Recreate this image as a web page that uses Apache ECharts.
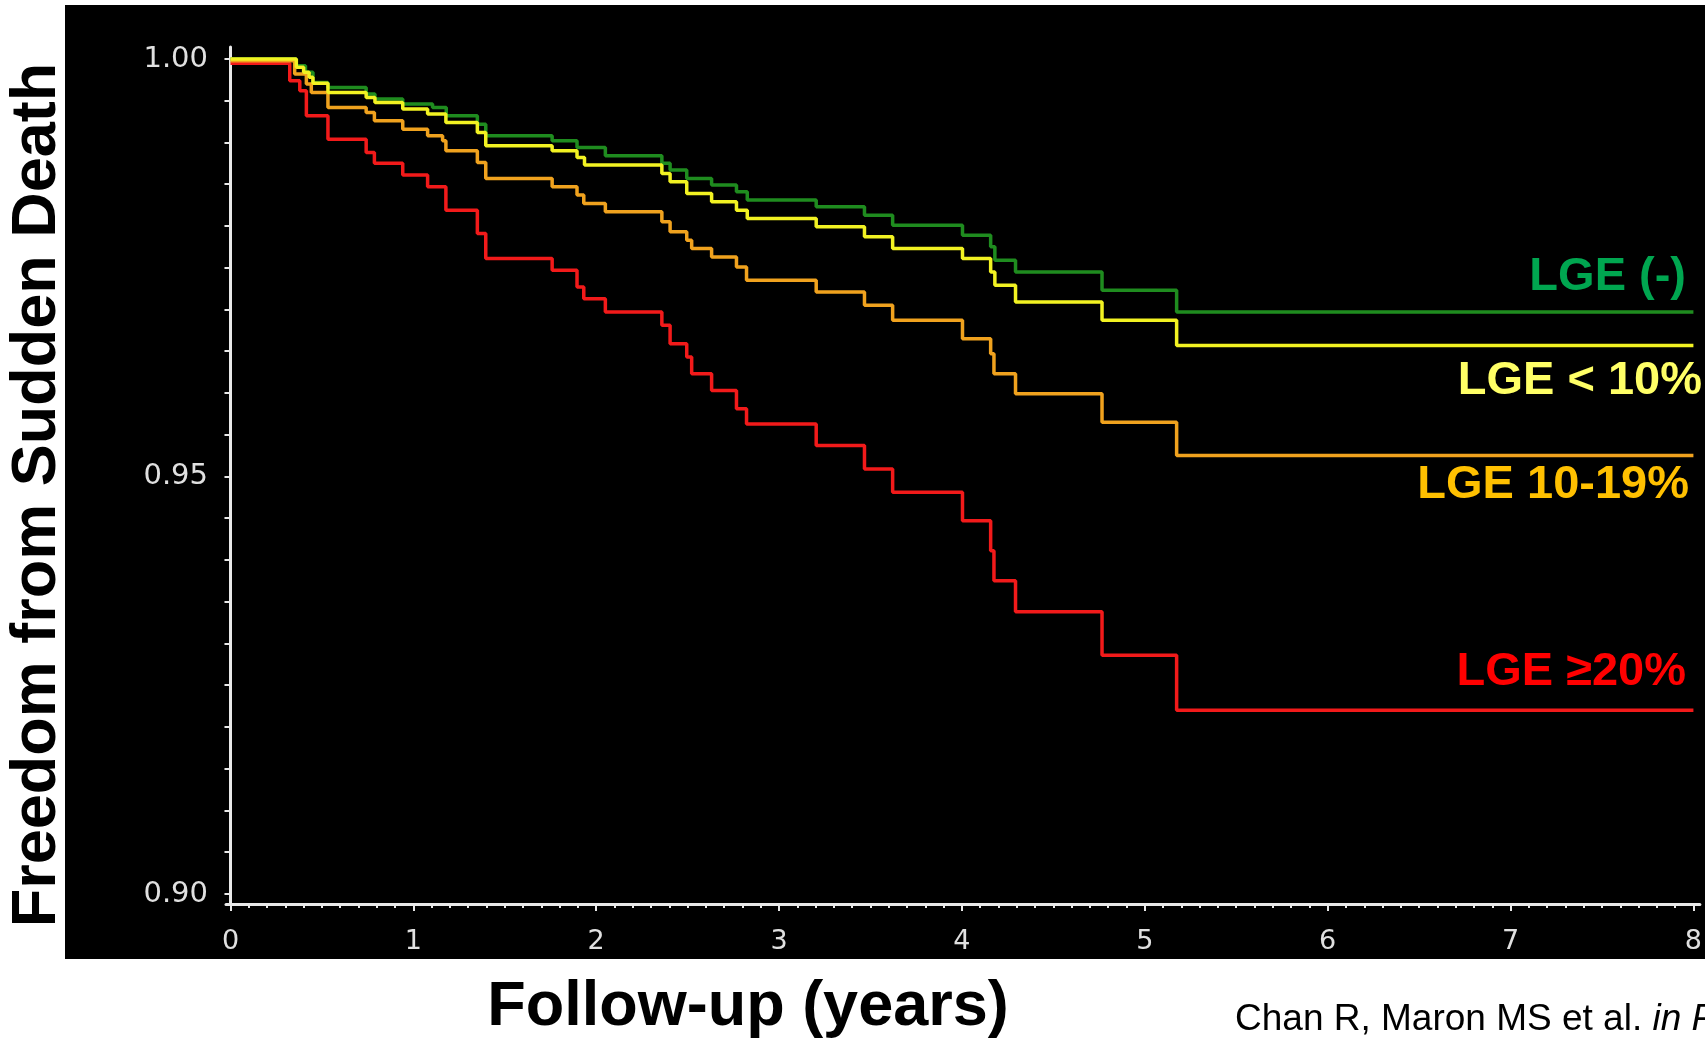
<!DOCTYPE html>
<html><head><meta charset="utf-8">
<script src="https://cdn.jsdelivr.net/npm/echarts@6/dist/echarts.min.js"></script>
<style>html,body{margin:0;padding:0;background:#fff;overflow:hidden}#c{width:1705px;height:1042px}</style>
</head><body><div id="c"></div>
<script>
// ---- data ----
const xTickYears = [0, 1, 2, 3, 4, 5, 6, 7, 8];
const yTickLabels = [0.90, 0.95, 1.00];
const seriesNames = ['LGE ≥20%', 'LGE (-)', 'LGE 10-19%', 'LGE < 10%'];

const redT = [0, 0.324, 0.379, 0.415, 0.533, 0.742, 0.787, 0.942, 1.078, 1.178, 1.350, 1.396, 1.759, 1.895, 1.932, 2.050, 2.359, 2.404, 2.495, 2.522, 2.631, 2.767, 2.822, 3.203, 3.467, 3.621, 4.003, 4.157, 4.175, 4.293, 4.766, 5.174, 8.0];
const redS = [0.9995, 0.9974, 0.9962, 0.9932, 0.9904, 0.9888, 0.9875, 0.9861, 0.9847, 0.9819, 0.9791, 0.9761, 0.9747, 0.9727, 0.9713, 0.9697, 0.9681, 0.9659, 0.9643, 0.9623, 0.9603, 0.9581, 0.9563, 0.9537, 0.9509, 0.9481, 0.9447, 0.9411, 0.9375, 0.9338, 0.9286, 0.9220, 0.9220];

const orangeT = [0, 0.351, 0.415, 0.442, 0.533, 0.742, 0.787, 0.942, 1.078, 1.160, 1.178, 1.350, 1.396, 1.759, 1.895, 1.932, 2.050, 2.359, 2.404, 2.495, 2.522, 2.631, 2.767, 2.822, 3.203, 3.467, 3.621, 4.003, 4.157, 4.175, 4.293, 4.766, 5.174, 8.0];
const orangeS = [0.9998, 0.9982, 0.9970, 0.9960, 0.9942, 0.9936, 0.9926, 0.9916, 0.9908, 0.9902, 0.9890, 0.9876, 0.9857, 0.9847, 0.9837, 0.9827, 0.9817, 0.9805, 0.9793, 0.9783, 0.9773, 0.9763, 0.9751, 0.9735, 0.9721, 0.9705, 0.9687, 0.9665, 0.9647, 0.9623, 0.9599, 0.9565, 0.9525, 0.9525];

const yellowT = [0, 0.36, 0.40, 0.43, 0.451, 0.533, 0.742, 0.79, 0.942, 1.078, 1.178, 1.350, 1.396, 1.759, 1.895, 1.936, 2.359, 2.404, 2.495, 2.631, 2.767, 2.826, 3.203, 3.467, 3.621, 4.003, 4.157, 4.18, 4.293, 4.766, 5.174, 8.0];
const yellowS = [1.0, 0.9990, 0.9984, 0.9978, 0.9971, 0.9960, 0.9954, 0.9948, 0.9940, 0.9934, 0.9924, 0.9912, 0.9896, 0.9890, 0.9882, 0.9873, 0.9863, 0.9853, 0.9839, 0.9829, 0.9819, 0.9809, 0.9799, 0.9787, 0.9773, 0.9761, 0.9745, 0.9729, 0.9709, 0.9687, 0.9657, 0.9657];

const greenT = [0, 0.36, 0.41, 0.451, 0.533, 0.742, 0.79, 0.942, 1.105, 1.18, 1.350, 1.396, 1.759, 1.895, 2.050, 2.359, 2.404, 2.495, 2.631, 2.767, 2.826, 3.203, 3.467, 3.621, 4.003, 4.157, 4.18, 4.293, 4.766, 5.174, 8.0];
const greenS = [1.0, 0.9992, 0.9984, 0.9972, 0.9966, 0.9958, 0.9952, 0.9946, 0.9942, 0.9932, 0.9922, 0.9908, 0.9902, 0.9894, 0.9884, 0.9875, 0.9867, 0.9857, 0.9849, 0.9841, 0.9831, 0.9823, 0.9813, 0.9801, 0.9789, 0.9775, 0.9759, 0.9745, 0.9723, 0.9697, 0.9697];

// ---- layout ----
const GRID = {left: 226, top: 47, right: 0, bottom: 138};
const X_MIN = -0.0245, X_MAX = 8.0354;
const Y_MIN = 0.898802, Y_MAX = 1.001437;
const AXIS_COLOR = '#e8e8e8';
const SANS = '"Liberation Sans", Arial, sans-serif';

const xMinor = []; for (let i = 0; i <= 80; i++) xMinor.push(+(i / 10).toFixed(1));
const yMinor = []; for (let i = 0; i <= 20; i++) yMinor.push(+(0.90 + i * 0.005).toFixed(3));

function pairs(t, s) { return t.map((v, i) => [v, s[i]]); }

const chart = echarts.init(document.getElementById('c'), null, {renderer: 'canvas'});

function lineSeries(name, t, s, color, z) {
  return {
    name: name, type: 'line', step: 'end', data: pairs(t, s),
    showSymbol: false, symbol: 'none', clip: true, z: z,
    lineStyle: {color: color, width: 3.5}, emphasis: {disabled: true}
  };
}

function label(text, x, y, color, size, align, extra) {
  return Object.assign({type: 'text', x: x, y: y, silent: true,
    style: {text: text, fill: color, fontFamily: SANS, fontWeight: 'bold', fontSize: size,
      align: align, verticalAlign: 'middle', textAlign: align, textVerticalAlign: 'middle'}}, extra || {});
}

chart.setOption({
  animation: false,
  backgroundColor: '#ffffff',
  grid: {left: GRID.left, top: GRID.top, right: GRID.right, bottom: GRID.bottom, containLabel: false},
  xAxis: [
    {
      type: 'value', min: X_MIN, max: X_MAX, position: 'bottom',
      axisLine: {show: true, lineStyle: {color: AXIS_COLOR, width: 3}},
      axisTick: {show: true, customValues: xTickYears, length: 7, lineStyle: {color: AXIS_COLOR, width: 2}},
      axisLabel: {customValues: xTickYears, margin: 24, color: '#e0e0e0', fontFamily: 'DejaVu Sans', fontSize: 27},
      splitLine: {show: false}
    },
    {
      type: 'value', min: X_MIN, max: X_MAX, position: 'bottom',
      axisLine: {show: false},
      axisTick: {show: true, customValues: xMinor, length: 4, lineStyle: {color: AXIS_COLOR, width: 2}},
      axisLabel: {show: false},
      splitLine: {show: false}
    }
  ],
  yAxis: {
    type: 'value', min: Y_MIN, max: Y_MAX,
    axisLine: {show: true, lineStyle: {color: AXIS_COLOR, width: 3}},
    axisTick: {show: true, customValues: yMinor, length: 6, lineStyle: {color: AXIS_COLOR, width: 2}},
    axisLabel: {customValues: yTickLabels, formatter: v => v.toFixed(2), margin: 18, color: '#e0e0e0', fontFamily: 'DejaVu Sans', fontSize: 29, padding: [0, 0, 8, 0]},
    splitLine: {show: false}
  },
  series: [
    lineSeries(seriesNames[0], redT, redS, '#f21a1a', 2),
    lineSeries(seriesNames[1], greenT, greenS, '#1f8c1f', 3),
    lineSeries(seriesNames[2], orangeT, orangeS, '#f0a21e', 4),
    lineSeries(seriesNames[3], yellowT, yellowS, '#f2f222', 5)
  ],
  graphic: {
    elements: [
      {type: 'rect', z: -100, silent: true, shape: {x: 65, y: 5, width: 1640, height: 954}, style: {fill: '#000000'}},
      label('Freedom from Sudden Death', 38, 495, '#000', 63, 'center', {rotation: Math.PI / 2}),
      label('Follow-up (years)', 748, 1008, '#000', 63, 'center'),
      {type: 'text', x: 1235, y: 1020, silent: true,
        style: {text: 'Chan R, Maron MS et al. {i|in Press}', rich: {i: {fontStyle: 'italic', fontFamily: SANS, fontSize: 37, fill: '#000'}},
          fill: '#000', fontFamily: SANS, fontSize: 37, align: 'left', verticalAlign: 'middle', textAlign: 'left', textVerticalAlign: 'middle'}},
      label(seriesNames[1], 1686, 277, '#00a650', 47, 'right'),
      label(seriesNames[3], 1702, 381, '#ffff66', 47, 'right'),
      label(seriesNames[2], 1689, 485, '#ffc000', 47, 'right'),
      label(seriesNames[0], 1686, 672, '#ff0000', 47, 'right')
    ]
  }
});
</script></body></html>
